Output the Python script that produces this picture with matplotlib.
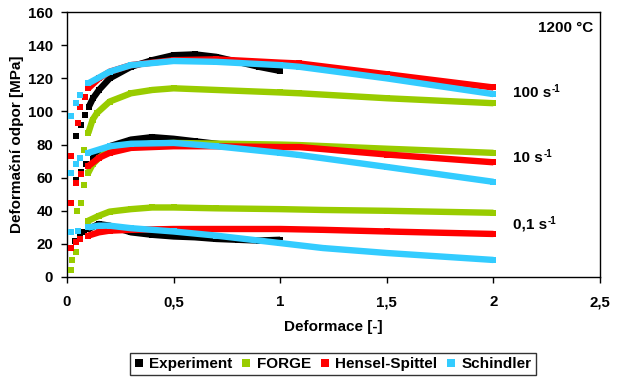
import matplotlib
matplotlib.use("Agg")
import matplotlib.pyplot as plt
from matplotlib.ticker import FuncFormatter

plt.rcParams['font.family'] = ['Liberation Sans', 'DejaVu Sans']
plt.rcParams['font.weight'] = 'bold'
plt.rcParams['mathtext.default'] = 'regular'

# ---------------- data (strain [-], stress [MPa]) ----------------
# rate 100 s^-1
exp100_x = [0.042, 0.066, 0.084, 0.103, 0.122, 0.15, 0.2, 0.3, 0.4, 0.5, 0.6, 0.7, 0.8, 0.9, 1.0]
exp100_y = [85, 92, 98, 103, 108, 113, 120, 127, 131, 134, 134.5, 133, 130, 127, 124.5]
forge100_x = [0.08, 0.1, 0.12, 0.14, 0.2, 0.3, 0.4, 0.5, 0.7, 1.0, 1.09, 1.5, 2.0]
forge100_y = [77, 87, 95, 99, 106, 111, 113, 114, 113, 111.5, 111, 108, 105]
hs100_x = [0.02, 0.05, 0.06, 0.085, 0.1, 0.15, 0.2, 0.3, 0.5, 0.7, 1.0, 1.09, 1.5, 2.0]
hs100_y = [73, 93, 102.5, 109, 114, 120, 124, 128, 131, 131.5, 129.5, 129, 122.5, 114.5]
sch100_x = [0.02, 0.04, 0.06, 0.1, 0.2, 0.3, 0.5, 0.7, 1.0, 1.09, 1.5, 2.0]
sch100_y = [97, 105, 110, 117, 124, 128, 130.5, 130, 128, 127, 120, 110.5]

# rate 10 s^-1
exp10_x = [0.042, 0.066, 0.09, 0.12, 0.15, 0.2, 0.3, 0.4, 0.5, 0.6, 0.7, 0.8, 0.9, 1.0]
exp10_y = [58.5, 63.5, 68, 72, 75, 79, 83, 84.5, 83.5, 82, 80.5, 79, 77.5, 76]
forge10_x = [0.047, 0.065, 0.08, 0.1, 0.12, 0.15, 0.2, 0.3, 0.5, 1.0, 1.09, 1.5, 2.0]
forge10_y = [40, 45, 55.5, 63, 68, 72, 77, 80, 81, 80, 79.7, 77.5, 75]
hs10_x = [0.02, 0.042, 0.066, 0.1, 0.15, 0.2, 0.3, 0.5, 0.7, 1.0, 1.09, 1.5, 2.0]
hs10_y = [44.7, 57, 62, 67, 72, 75, 78, 79, 79, 78.5, 78.5, 74, 69.3]
sch10_x = [0.02, 0.04, 0.06, 0.1, 0.2, 0.3, 0.5, 0.7, 1.0, 1.09, 1.5, 2.0]
sch10_y = [63, 68, 72, 75, 79, 80.5, 81, 79, 75, 73.7, 66.5, 57.5]

# rate 0.1 s^-1
exp01_x = [0.038, 0.06, 0.08, 0.1, 0.15, 0.2, 0.3, 0.4, 0.5, 0.6, 0.7, 0.8, 0.9, 1.0]
exp01_y = [22, 25, 27, 29, 32, 31, 27, 25.5, 24.5, 24, 23, 22.5, 22, 22.5]
forge01_x = [0.02, 0.025, 0.04, 0.1, 0.15, 0.2, 0.3, 0.4, 0.5, 0.7, 1.0, 1.2, 1.5, 2.0]
forge01_y = [4, 10, 15, 34, 37, 39.5, 41, 42, 42, 41.5, 41, 40.5, 40, 38.8]
hs01_x = [0.02, 0.04, 0.06, 0.1, 0.15, 0.2, 0.3, 0.5, 0.7, 1.0, 1.2, 1.5, 2.0]
hs01_y = [17.5, 21, 23, 25, 27, 28, 28.5, 29, 29, 29, 28.5, 27.5, 26]
sch01_x = [0.02, 0.05, 0.1, 0.15, 0.2, 0.3, 0.5, 0.7, 1.0, 1.2, 1.5, 2.0]
sch01_y = [27, 28, 30, 31, 31, 29.5, 27.5, 25, 20.5, 17.5, 14.5, 10.3]

series_names = ['Experiment', 'FORGE', 'Hensel-Spittel', 'Schindler']
series_colors = ['#000000', '#99cc00', '#ff0000', '#33ccff']
series_data = {
    'Experiment': [(exp100_x, exp100_y), (exp10_x, exp10_y), (exp01_x, exp01_y)],
    'FORGE': [(forge100_x, forge100_y), (forge10_x, forge10_y), (forge01_x, forge01_y)],
    'Hensel-Spittel': [(hs100_x, hs100_y), (hs10_x, hs10_y), (hs01_x, hs01_y)],
    'Schindler': [(sch100_x, sch100_y), (sch10_x, sch10_y), (sch01_x, sch01_y)],
}
rate_labels = ['100 s', '10 s', '0,1 s']
rate_sup = '-1'
rate_label_y = [111, 72, 31.5]
temperature_label = '1200 °C'

# ---------------- figure ----------------
fig = plt.figure(figsize=(6.18, 3.78), dpi=100)
ax = fig.add_axes([0.1084, 0.2672, 0.8625, 0.7006])

CONT_FROM = 0.095
MS = 4.6
for name, color in zip(series_names, series_colors):
    for k, (xs, ys) in enumerate(series_data[name]):
        ax.plot(xs, ys, ls='none', marker='s', ms=MS, color=color, mew=0,
                label=name if k == 0 else None, zorder=3)
        cx = [x for x in xs if x >= CONT_FROM]
        cy = [y for x, y in zip(xs, ys) if x >= CONT_FROM]
        ax.plot(cx, cy, ls='-', lw=4.6, color=color, solid_capstyle='butt', zorder=3)

ax.set_xlim(0, 2.5)
ax.set_ylim(0, 160)
ax.set_xticks([0, 0.5, 1, 1.5, 2, 2.5])
ax.set_yticks(range(0, 161, 20))
ax.xaxis.set_major_formatter(FuncFormatter(lambda v, p: ('%g' % v).replace('.', ',')))
ax.tick_params(axis='x', direction='out', length=4, width=1, pad=9, labelsize=10.8)
ax.tick_params(axis='y', direction='out', length=4, width=1, pad=6, labelsize=10.8)
for lab in ax.get_xticklabels() + ax.get_yticklabels():
    lab.set_fontweight('bold')
for sp in ax.spines.values():
    sp.set_color('black')
    sp.set_linewidth(1.0)

ax.set_xlabel('Deformace [-]', fontsize=11, fontweight='bold', labelpad=8)
ax.set_ylabel('Deformační odpor [MPa]', fontsize=11, fontweight='bold', labelpad=3)

fig.canvas.draw()
renderer = fig.canvas.get_renderer()
for txt, yv in zip(rate_labels, rate_label_y):
    t = ax.text(2.09, yv, txt, fontsize=11, fontweight='bold', va='center', ha='left')
    bb = t.get_window_extent(renderer=renderer)
    fx = (bb.x1 + 1) / fig.bbox.width
    fy = (bb.y1 - 3) / fig.bbox.height
    fig.text(fx, fy, rate_sup, fontsize=7, fontweight='bold', va='center', ha='left')
ax.text(2.467, 150.5, temperature_label, fontsize=11, fontweight='bold', va='center', ha='right')

leg = fig.legend(loc='center', bbox_to_anchor=(333 / 618, 1 - 364 / 378), ncol=4,
                 frameon=True, fancybox=False, edgecolor='black', handlelength=0.6,
                 handletextpad=0.4, columnspacing=0.6, borderpad=0.25, markerscale=1.2,
                 prop={'size': 11, 'weight': 'bold'})
leg.get_frame().set_linewidth(1.0)

fig.savefig('out.png', dpi=100)
